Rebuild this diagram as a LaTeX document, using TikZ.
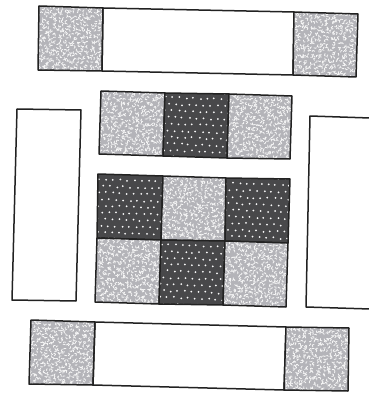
\documentclass[tikz,border=0pt]{standalone}
\definecolor{ink}{HTML}{222222}
\definecolor{lightbase}{HTML}{B4B4B9}
\definecolor{darkbase}{HTML}{48484A}
\tikzset{
  outline/.style={draw=ink,line width=1.5pt,line join=round},
  squiggle/.style={draw=white!92!gray,line width=0.8pt,line cap=round},
  speck/.style={fill=white!95!gray,draw=none}
}
% #1 = closed path, #2,#3 = centre of the cell
\newcommand{\lightcell}[3]{%
  \begin{scope}
    \clip #1;
    \fill[lightbase] #1;
    \foreach \i in {-10,...,10}{%
      \foreach \j in {-10,...,10}{%
        \pgfmathsetmacro{\px}{#2+\i*3.5+1.0*rand}%
        \pgfmathsetmacro{\py}{#3+\j*3.5+1.0*rand}%
        \pgfmathsetmacro{\ang}{360*rnd}%
        \pgfmathsetmacro{\bend}{100+110*rnd}%
        \draw[squiggle] (\px,\py) arc[start angle=\ang,delta angle=\bend,radius=1.3pt];
      }
    }
  \end{scope}
  \draw[outline] #1;
}
\newcommand{\darkcell}[3]{%
  \begin{scope}
    \clip #1;
    \fill[darkbase] #1;
    \foreach \i in {-5,...,5}{%
      \foreach \j in {-5,...,5}{%
        \pgfmathsetmacro{\px}{#2+\i*7+mod(\j+5,2)*3.5-\j*0.2+0.8*rand}%
        \pgfmathsetmacro{\py}{#3+\j*6.6+\i*0.3+0.8*rand}%
        \fill[speck] (\px,\py) circle[radius=1pt];
      }
    }
  \end{scope}
  \draw[outline] #1;
}
\begin{document}
\begin{tikzpicture}[x=1pt,y=-1pt]
\pgfmathsetseed{4217}
\useasboundingbox (0,0) rectangle (368,393);
\fill[white] (0,0) rectangle (368,393);
% top strip
\lightcell{(39,6) -- (103,8) -- (102,71) -- (38,70) -- cycle}{70}{38}
\draw[outline] (103,8) -- (294,12) -- (293,75) -- (102,71) -- cycle;
\lightcell{(294,12) -- (358,14) -- (356,77) -- (293,75) -- cycle}{325}{44}
% middle strip
\lightcell{(101,91) -- (165,93) -- (163,156) -- (99,154) -- cycle}{132}{123}
\darkcell{(165,93) -- (229,94) -- (227,158) -- (163,156) -- cycle}{196}{125}
\lightcell{(229,94) -- (292,96) -- (290,159) -- (227,158) -- cycle}{260}{127}
% left and right blanks
\draw[outline] (17,109) -- (81,110) -- (76,301) -- (12,300) -- cycle;
\draw[outline] (370,118) -- (310,116) -- (306,307) -- (370,309);
% grid
\darkcell{(98,174) -- (163,176) -- (161,240) -- (97,238) -- cycle}{130}{207}
\lightcell{(163,176) -- (226,178) -- (225,241) -- (161,240) -- cycle}{194}{209}
\darkcell{(226,178) -- (290,179) -- (288,243) -- (225,241) -- cycle}{257}{211}
\lightcell{(97,238) -- (161,240) -- (159,304) -- (95,302) -- cycle}{128}{271}
\darkcell{(161,240) -- (225,241) -- (223,305) -- (159,304) -- cycle}{192}{272}
\lightcell{(225,241) -- (288,243) -- (286,307) -- (223,305) -- cycle}{255}{274}
% bottom strip
\lightcell{(31,320) -- (95,322) -- (93,385) -- (29,384) -- cycle}{62}{352}
\draw[outline] (95,322) -- (286,327) -- (284,390) -- (93,385) -- cycle;
\lightcell{(286,327) -- (349,328) -- (348,391) -- (284,390) -- cycle}{317}{359}
\end{tikzpicture}
\end{document}
